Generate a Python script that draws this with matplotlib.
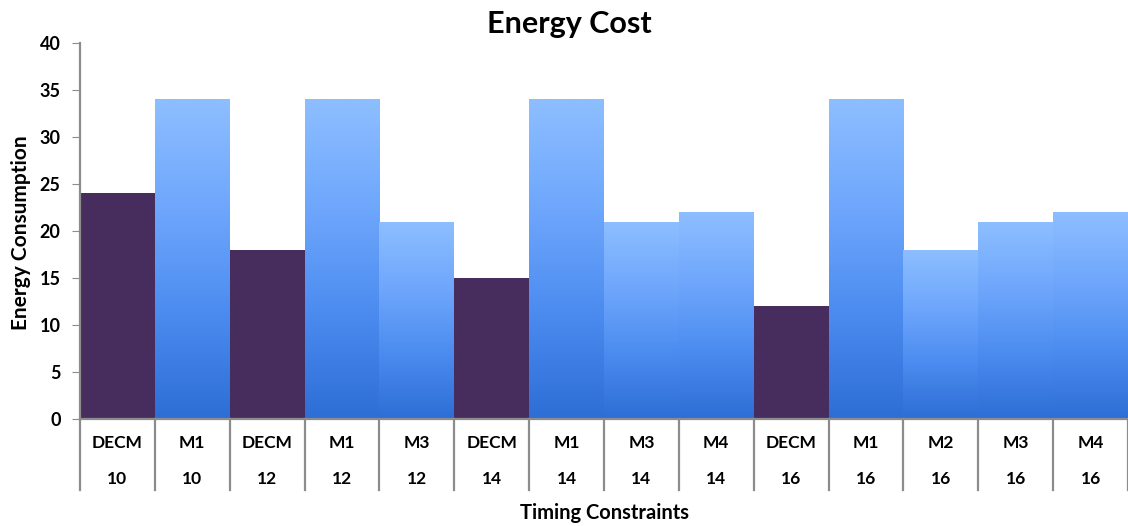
import matplotlib
matplotlib.use("Agg")
import matplotlib.pyplot as plt
import numpy as np
from matplotlib.colors import LinearSegmentedColormap
from matplotlib import transforms

plt.rcParams['font.family'] = ['Lato', 'DejaVu Sans']

methods = ["DECM", "M1", "DECM", "M1", "M3", "DECM", "M1", "M3", "M4",
           "DECM", "M1", "M2", "M3", "M4"]
constraints = ["10", "10", "12", "12", "12", "14", "14", "14", "14",
               "16", "16", "16", "16", "16"]
energy = [24, 34, 18, 34, 21, 15, 34, 21, 22, 12, 34, 18, 21, 22]

decm_color = "#472D5E"
blue_grad = LinearSegmentedColormap.from_list(
    "bluebar", ["#2D6ED6", "#4C8CF0", "#6FA7FC", "#8DBEFF"])
axis_gray = "#8C8C8C"

fig = plt.figure(figsize=(11.28, 5.26), dpi=100)
ax = fig.add_axes([0.0709, 0.2034, 0.9291, 0.7148])

x = np.arange(len(energy))
bars = ax.bar(x, energy, width=1.0, align="edge", linewidth=0)

grad = np.linspace(0, 1, 256).reshape(-1, 1)
for bar, m, v in zip(bars, methods, energy):
    if m == "DECM":
        bar.set_facecolor(decm_color)
    else:
        bar.set_facecolor("none")
        x0 = bar.get_x()
        img = ax.imshow(grad, cmap=blue_grad, origin="lower", aspect="auto",
                        extent=(x0, x0 + bar.get_width(), 0, v),
                        interpolation="bilinear", zorder=bar.get_zorder())
        img.set_clip_path(bar)

ax.set_xlim(0, len(energy))
ax.set_ylim(0, 40)
ax.set_yticks(np.arange(0, 41, 5))
ax.tick_params(axis="y", direction="out", length=6, color=axis_gray,
               labelsize=13, pad=8)
for lbl in ax.get_yticklabels():
    lbl.set_fontweight("bold")
ax.set_xticks([])

for side in ("top", "right"):
    ax.spines[side].set_visible(False)
for side in ("left", "bottom"):
    ax.spines[side].set_color(axis_gray)
    ax.spines[side].set_linewidth(1.6)

# two-level category axis
trans = transforms.blended_transform_factory(ax.transData, ax.transAxes)
for i in range(len(energy) + 1):
    ax.plot([i, i], [0, -0.19], transform=trans, color=axis_gray,
            linewidth=1.6, clip_on=False)
for i, (m, c) in enumerate(zip(methods, constraints)):
    ax.text(i + 0.5, -0.064, m, transform=trans, ha="center", va="center",
            fontsize=12.5, fontweight="bold")
    ax.text(i + 0.5, -0.16, c, transform=trans, ha="center", va="center",
            fontsize=12.5, fontweight="bold")

fig.text(0.505, 0.955, "Energy Cost", ha="center", va="center",
         fontsize=22, fontweight="bold")
fig.text(0.5355, 0.024, "Timing Constraints", ha="center", va="center",
         fontsize=14.5, fontweight="bold")
fig.text(0.019, 0.557, "Energy Consumption", ha="center", va="center",
         rotation=90, fontsize=15, fontweight="bold")

fig.savefig("out.png", dpi=100)
